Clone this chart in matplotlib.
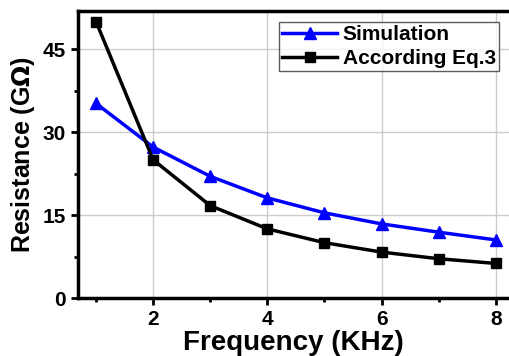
import numpy as np
import matplotlib.pyplot as plt
from matplotlib.ticker import MultipleLocator

freq = [1, 2, 3, 4, 5, 6, 7, 8]
simulation = [35.2, 27.3, 22.0, 18.1, 15.4, 13.4, 11.9, 10.5]
eq3 = [50.0, 25.0, 16.7, 12.5, 10.0, 8.3, 7.1, 6.25]

plt.rcParams['font.family'] = ['Liberation Sans', 'DejaVu Sans']
plt.rcParams['font.weight'] = 'bold'

fig = plt.figure(figsize=(5.09, 3.56), dpi=100)
ax = fig.add_axes([78/509, 58/356, 431/509, 287/356])

ax.plot(freq, simulation, color='#0000ff', marker='^', markersize=9, lw=2.5, label='Simulation')
ax.plot(freq, eq3, color='k', marker='s', markersize=7.5, lw=2.5, label='According Eq.3')

ax.set_xlim(0.685, 8.23)
ax.set_ylim(0, 51.9)
ax.xaxis.set_major_locator(MultipleLocator(2))
ax.xaxis.set_minor_locator(MultipleLocator(1))
ax.yaxis.set_major_locator(MultipleLocator(15))
ax.yaxis.set_minor_locator(MultipleLocator(7.5))
ax.grid(True, which='major', color='#cccccc', lw=1)
ax.set_axisbelow(True)

for s in ['top', 'left', 'bottom']:
    ax.spines[s].set_linewidth(2.5)
ax.spines['right'].set_visible(False)
ax.tick_params(which='both', direction='out', width=2, labelsize=15)
ax.tick_params(which='major', length=5)
ax.tick_params(which='minor', length=3)
ax.tick_params(axis='y', which='both', right=False)

ax.set_xlabel('Frequency (KHz)', fontsize=20, fontweight='bold', labelpad=1)
ax.set_ylabel('Resistance (G$\\Omega$)', fontsize=18, fontweight='bold', labelpad=4)

leg = ax.legend(loc='upper right', bbox_to_anchor=(0.977, 0.962), fontsize=15,
                frameon=True, fancybox=False, edgecolor='#333333', handlelength=2.6,
                borderpad=0.15, labelspacing=0.25, handletextpad=0.3, borderaxespad=0)
leg.get_frame().set_linewidth(1)

plt.savefig('out.png', dpi=100)
